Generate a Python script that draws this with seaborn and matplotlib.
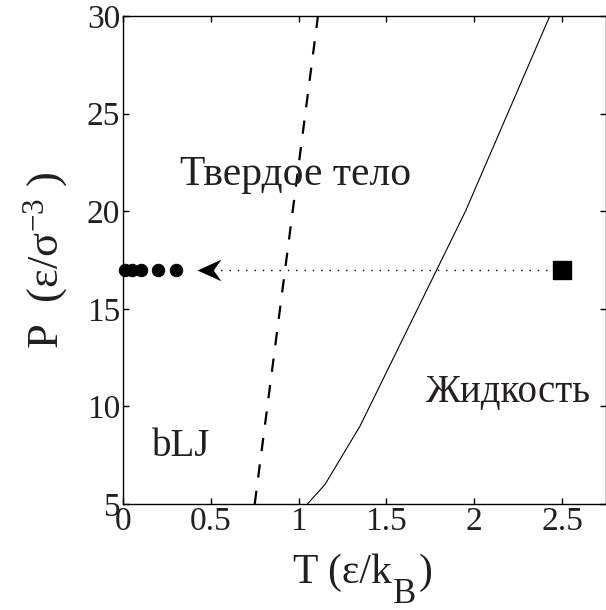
import matplotlib
matplotlib.use("Agg")
import matplotlib.pyplot as plt
import seaborn as sns
import pandas as pd
from matplotlib.path import Path

# --- data ---
melt_T = [1.05, 1.15, 1.35, 1.95, 2.43]
melt_P = [5, 6, 9, 20, 30]
bound_T = [0.75, 1.11]
bound_P = [5, 30]
path_T = [0.46, 2.5]
path_P = [17, 17]
dots_T = [0.01, 0.05, 0.10, 0.20, 0.30]
dots_P = [17, 17, 17, 17, 17]
start_T = [2.5]
start_P = [17]
arrow_T = [0.49]
arrow_P = [17]
xticks = [0, 0.5, 1, 1.5, 2, 2.5]
xticklabels = ["0", "0.5", "1", "1.5", "2", "2.5"]
yticks = [5, 10, 15, 20, 25, 30]

TXT = "#231f20"

sns.set_theme(style="ticks")
plt.rcParams['font.family'] = ['Liberation Serif', 'DejaVu Serif']
plt.rcParams['mathtext.fontset'] = 'custom'
plt.rcParams['mathtext.rm'] = 'Liberation Serif'
plt.rcParams['mathtext.it'] = 'Liberation Serif:italic'
plt.rcParams['mathtext.bf'] = 'Liberation Serif:bold'
plt.rcParams['axes.unicode_minus'] = False

fig = plt.figure(figsize=(6.06, 6.10), dpi=100)
ax = fig.add_axes([123/606, 1 - 504/610, 1 - 123/606, (504 - 16)/610])

sns.lineplot(data=pd.DataFrame({"T": melt_T, "P": melt_P}), x="T", y="P",
             ax=ax, color="black", lw=0.8, sort=False, estimator=None)
sns.lineplot(data=pd.DataFrame({"T": bound_T, "P": bound_P}), x="T", y="P",
             ax=ax, color="black", lw=1.6, sort=False, estimator=None,
             dashes=False, linestyle=(0, (6, 6)))
sns.lineplot(data=pd.DataFrame({"T": path_T, "P": path_P}), x="T", y="P",
             ax=ax, color="black", lw=1.0, sort=False, estimator=None,
             linestyle=(0, (1, 5)))
sns.scatterplot(data=pd.DataFrame({"T": dots_T, "P": dots_P}), x="T", y="P",
                ax=ax, color="black", s=80, marker="o", edgecolor="black", zorder=5,
                clip_on=False)
sns.scatterplot(data=pd.DataFrame({"T": start_T, "P": start_P}), x="T", y="P",
                ax=ax, color="black", s=150, marker="s", edgecolor="black", zorder=5)
arrow = Path([(-1, 0), (1, 0.9), (0.35, 0), (1, -0.9), (-1, 0)],
             [Path.MOVETO, Path.LINETO, Path.LINETO, Path.LINETO, Path.CLOSEPOLY])
sns.scatterplot(data=pd.DataFrame({"T": arrow_T, "P": arrow_P}), x="T", y="P",
                ax=ax, color="black", s=300, marker=arrow, edgecolor="black",
                linewidth=0, zorder=5)

ax.text(0.983, 21.34, "Твердое тело", fontsize=30, ha="center", va="baseline", color=TXT)
ax.text(2.197, 10.23, "Жидкость", fontsize=28, ha="center", va="baseline", color=TXT)
ax.text(0.333, 7.46, "bLJ", fontsize=28, ha="center", va="baseline", color=TXT)

ax.set_xlim(0, 2.75)
ax.set_ylim(5, 30)
ax.set_xticks(xticks)
ax.set_xticklabels(xticklabels)
ax.set_yticks(yticks)
ax.tick_params(direction="in", length=4, width=1, labelsize=24, pad=2,
               top=True, right=True, colors="black", labelcolor=TXT)
for s in ax.spines.values():
    s.set_linewidth(1.0)
    s.set_color("black")

# x label built from pieces so the subscript B can be large
ax.set_xlabel("")
ybase = (504 - 583) / 488
t1 = ax.annotate("T (ε/k", xy=(0.352, ybase), xycoords="axes fraction",
                 ha="left", va="baseline", fontsize=30, color=TXT, annotation_clip=False)
t2 = ax.annotate("B", xy=(1, ybase), xycoords=(t1, "axes fraction"),
                 xytext=(0.5, -14.5), textcoords="offset points",
                 ha="left", va="baseline", fontsize=25, color=TXT, annotation_clip=False)
t3 = ax.annotate(")", xy=(1, ybase), xycoords=(t2, "axes fraction"),
                 xytext=(2, 0), textcoords="offset points",
                 ha="left", va="baseline", fontsize=30, color=TXT, annotation_clip=False)

ax.set_ylabel(r"P  (ε/σ$^{\mathregular{-3}}$ )", fontsize=32, labelpad=12, color=TXT)

fig.savefig("out.png", dpi=100)
